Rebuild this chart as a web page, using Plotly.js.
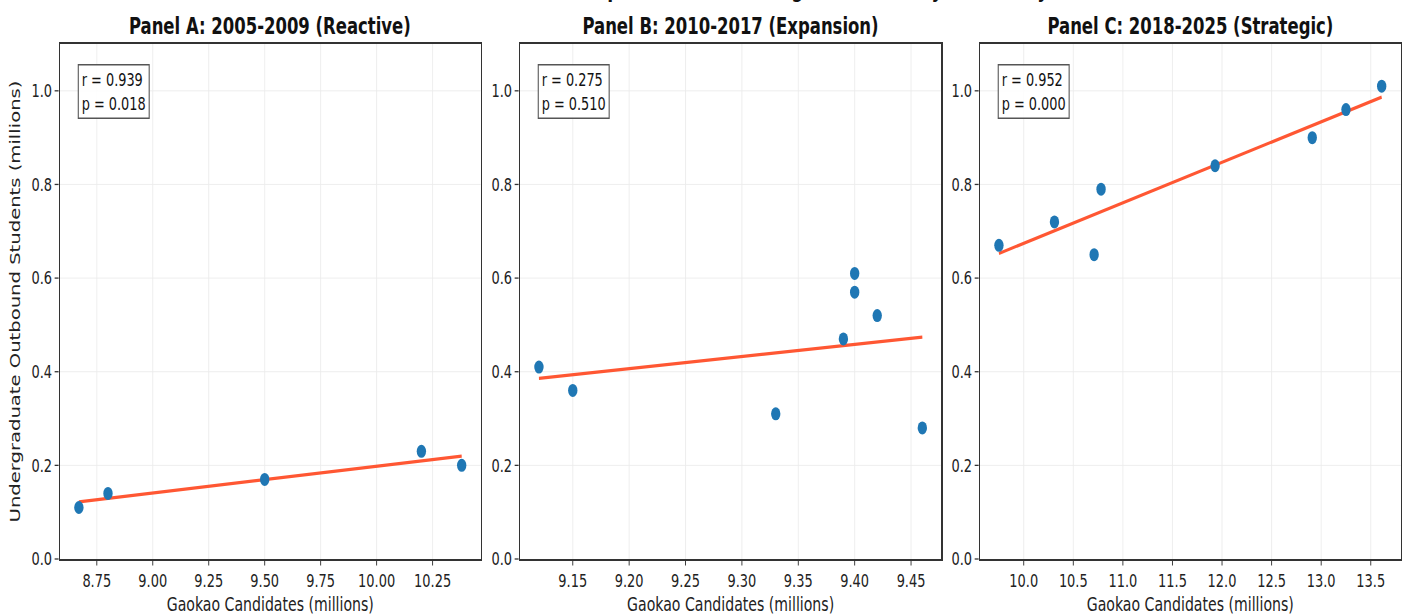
<!DOCTYPE html>
<html>
<head>
<meta charset="utf-8">
<script src="https://cdn.plot.ly/plotly-3.0.1.min.js"></script>
<style>
html,body{margin:0;padding:0;overflow:hidden;background:#fff;}
#wrap{width:1408px;height:616px;overflow:hidden;position:relative;}
#chart{width:1956px;height:616px;transform:scaleX(0.71984);transform-origin:0 0;}
</style>
</head>
<body>
<div id="wrap"><div id="chart"></div></div>
<script>
// ---- data ----
const mainTitle = "Correlation between Gaokao Competition and Undergraduate Study Abroad by Phase";
const panelTitles = ["Panel A: 2005-2009 (Reactive)", "Panel B: 2010-2017 (Expansion)", "Panel C: 2018-2025 (Strategic)"];

const gaokaoA = [8.67, 8.80, 9.50, 10.20, 10.38];
const outboundA = [0.11, 0.14, 0.17, 0.23, 0.20];

const gaokaoB = [9.12, 9.15, 9.33, 9.39, 9.40, 9.40, 9.42, 9.46];
const outboundB = [0.41, 0.36, 0.31, 0.47, 0.61, 0.57, 0.52, 0.28];

const gaokaoC = [9.75, 10.31, 10.71, 10.78, 11.93, 12.91, 13.25, 13.61];
const outboundC = [0.67, 0.72, 0.65, 0.79, 0.84, 0.90, 0.96, 1.01];

const statsText = ["r = 0.939<br>p = 0.018", "r = 0.275<br>p = 0.510", "r = 0.952<br>p = 0.000"];

const xTickStep = [0.25, 0.05, 0.5];
const xTickFormat = [".2f", ".2f", ".1f"];
const yTickStep = 0.2;

const xTitle = "Gaokao Candidates (millions)";
const yTitle = "Undergraduate Outbound Students (millions)";

// ---- build ----
const FONT = "DejaVu Sans";
const panels = [[gaokaoA, outboundA], [gaokaoB, outboundB], [gaokaoC, outboundC]];
const domains = [[0, 0.31399], [0.34303, 0.65750], [0.68606, 1]];

function fit(x, y) {
  const n = x.length;
  const mx = x.reduce((a, b) => a + b, 0) / n;
  const my = y.reduce((a, b) => a + b, 0) / n;
  let sxy = 0, sxx = 0;
  for (let i = 0; i < n; i++) { sxy += (x[i] - mx) * (y[i] - my); sxx += (x[i] - mx) ** 2; }
  const b = sxy / sxx, a = my - b * mx;
  const x0 = Math.min(...x), x1 = Math.max(...x);
  return { xs: [x0, x1], ys: [a + b * x0, a + b * x1] };
}

const traces = [];
const layout = {
  width: 1956, height: 616,
  margin: { l: 83.3, r: 10.2, t: 44, b: 57 },
  paper_bgcolor: "#fff", plot_bgcolor: "#fff",
  showlegend: false,
  font: { family: FONT, color: "#222" },
  annotations: [],
};

panels.forEach((p, i) => {
  const [x, y] = p;
  const sfx = i === 0 ? "" : String(i + 1);
  const xa = "x" + sfx, ya = "y" + sfx;
  const f = fit(x, y);
  traces.push({
    x: f.xs, y: f.ys, xaxis: xa, yaxis: ya, type: "scatter", mode: "lines",
    line: { color: "#ff5733", width: 3.2 }, hoverinfo: "skip",
  });
  traces.push({
    x: x, y: y, xaxis: xa, yaxis: ya, type: "scatter", mode: "markers",
    marker: { color: "#1f77b4", size: 13, line: { width: 0 } },
  });
  const mn = Math.min(...x), mxv = Math.max(...x), span = mxv - mn;
  layout["xaxis" + sfx] = {
    domain: domains[i], anchor: ya,
    range: [mn - 0.05 * span, mxv + 0.05 * span],
    dtick: xTickStep[i], tick0: 0, tickformat: xTickFormat[i],
    showgrid: true, gridcolor: "#ebebeb", gridwidth: 1,
    zeroline: false, showline: true, mirror: true, linecolor: "#333", linewidth: 1.6,
    ticks: "outside", ticklen: 5, tickwidth: 1.3, tickcolor: "#333",
    tickfont: { family: FONT, size: 18, color: "#222" },
    title: { text: xTitle, font: { family: FONT, size: 19.6, color: "#222" }, standoff: 9 },
  };
  layout["yaxis" + sfx] = {
    domain: [0, 1], anchor: xa,
    range: [0, 1.1], dtick: yTickStep, tick0: 0, tickformat: ".1f",
    showgrid: true, gridcolor: "#ebebeb", gridwidth: 1,
    zeroline: false, showline: true, mirror: true, linecolor: "#333", linewidth: 1.6,
    ticks: "outside", ticklen: 5.5, tickwidth: 1.3, tickcolor: "#333",
    tickfont: { family: FONT, size: 18, color: "#222" },
    title: i === 0 ? { text: yTitle, font: { family: FONT, size: 19.6, color: "#222" }, standoff: 10 } : { text: "" },
  };
  layout.annotations.push({
    xref: xa + " domain", yref: ya + " domain", x: 0.042, y: 0.961,
    xanchor: "left", yanchor: "top", align: "left", showarrow: false,
    text: statsText[i], font: { family: FONT, size: 17.9, color: "#111" },
    bgcolor: "rgba(255,255,255,0.85)", bordercolor: "#555", borderwidth: 1.5, borderpad: 4,
  });
  layout.annotations.push({
    xref: xa + " domain", yref: "paper", x: 0.5, y: 1, yshift: 3,
    xanchor: "center", yanchor: "bottom", showarrow: false,
    text: panelTitles[i], font: { family: FONT, size: 22.9, color: "#111", weight: "bold" },
  });
});

layout.annotations.push({
  xref: "paper", yref: "paper", x: 0.475, y: 1, yshift: 39,
  xanchor: "center", yanchor: "bottom", showarrow: false,
  text: mainTitle, font: { family: FONT, size: 24, color: "#111", weight: "bold" },
});

Plotly.newPlot("chart", traces, layout, { staticPlot: true, displayModeBar: false });
</script>
</body>
</html>
